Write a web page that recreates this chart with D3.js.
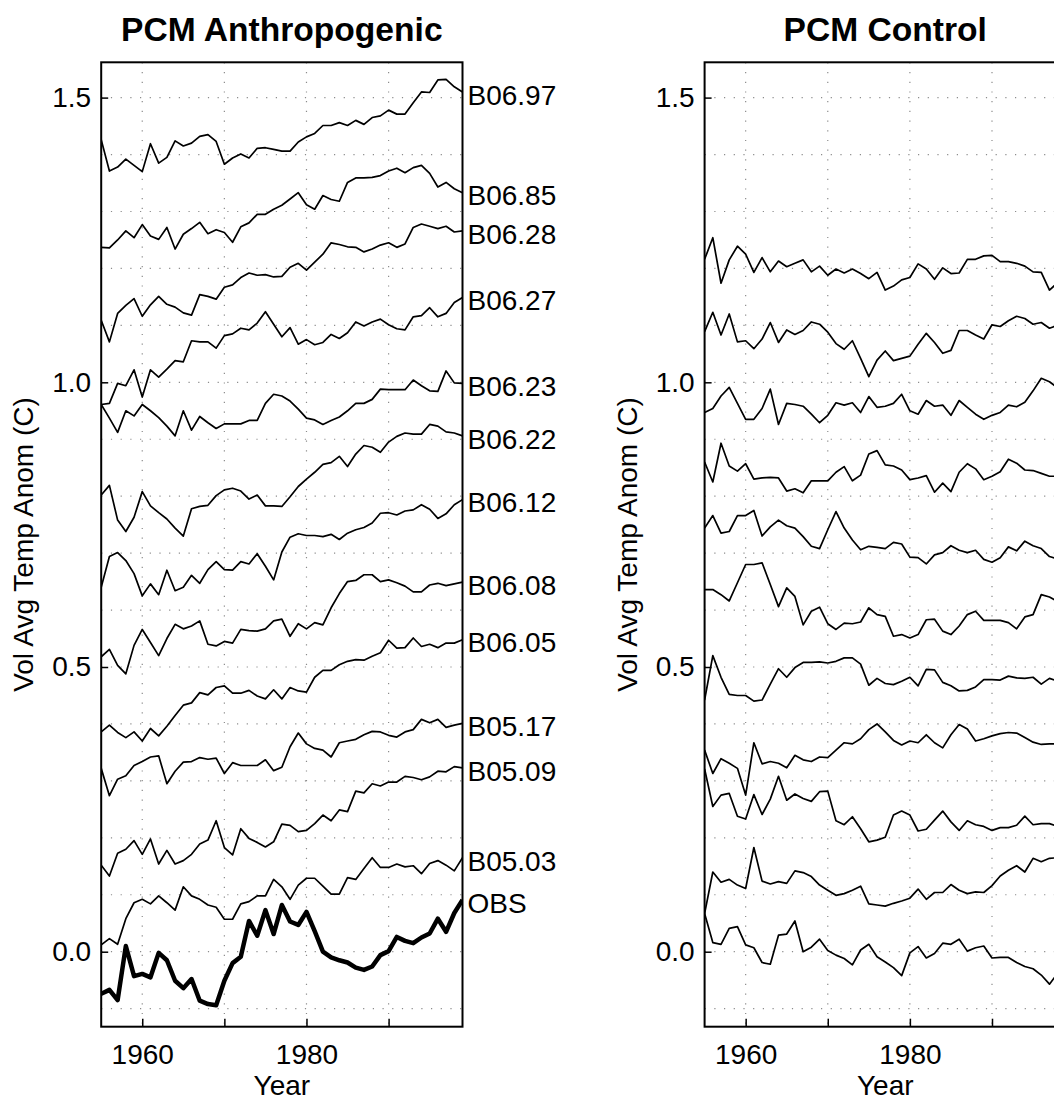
<!DOCTYPE html>
<html><head><meta charset="utf-8">
<script src="https://cdn.jsdelivr.net/npm/d3@7"></script>
<style>
body{margin:0;background:#fff;}
text{font-family:"Liberation Sans",Arial,Helvetica,sans-serif;fill:#000;}
</style></head>
<body><svg id="chart" width="1054" height="1101"></svg>
<script>
const years = [1955,1956,1957,1958,1959,1960,1961,1962,1963,1964,1965,1966,1967,1968,1969,1970,1971,1972,1973,1974,1975,1976,1977,1978,1979,1980,1981,1982,1983,1984,1985,1986,1987,1988,1989,1990,1991,1992,1993,1994,1995,1996,1997,1998,1999];

const anthNames = ["B06.97","B06.85","B06.28","B06.27","B06.23","B06.22","B06.12","B06.08","B06.05","B05.17","B05.09","B05.03"];
const B0697 = [1.426,1.371,1.378,1.392,1.381,1.370,1.419,1.385,1.395,1.424,1.415,1.420,1.432,1.435,1.423,1.383,1.394,1.401,1.394,1.411,1.412,1.409,1.406,1.406,1.422,1.431,1.437,1.451,1.451,1.456,1.451,1.460,1.453,1.465,1.468,1.478,1.471,1.471,1.491,1.510,1.509,1.531,1.532,1.519,1.510];
const B0685 = [1.237,1.236,1.250,1.266,1.254,1.277,1.257,1.251,1.272,1.234,1.260,1.270,1.281,1.261,1.268,1.263,1.246,1.273,1.280,1.295,1.295,1.304,1.311,1.322,1.333,1.312,1.304,1.328,1.321,1.318,1.351,1.359,1.359,1.360,1.363,1.371,1.376,1.368,1.377,1.381,1.367,1.343,1.351,1.340,1.333];
const B0628 = [1.109,1.071,1.121,1.135,1.147,1.116,1.136,1.151,1.137,1.132,1.122,1.118,1.154,1.151,1.146,1.167,1.171,1.184,1.192,1.188,1.189,1.185,1.186,1.202,1.209,1.197,1.211,1.225,1.245,1.242,1.238,1.237,1.229,1.234,1.241,1.245,1.237,1.243,1.272,1.278,1.274,1.270,1.274,1.264,1.266];
const B0627 = [0.961,0.963,0.998,0.994,1.022,0.974,1.022,1.009,1.023,1.038,1.036,1.073,1.071,1.071,1.060,1.082,1.085,1.095,1.092,1.104,1.124,1.102,1.080,1.096,1.067,1.075,1.066,1.070,1.084,1.077,1.087,1.106,1.099,1.106,1.111,1.101,1.094,1.092,1.115,1.117,1.131,1.115,1.121,1.140,1.149];
const B0623 = [0.961,0.937,0.912,0.950,0.941,0.961,0.950,0.938,0.923,0.906,0.950,0.916,0.940,0.929,0.919,0.927,0.927,0.927,0.933,0.933,0.963,0.979,0.976,0.967,0.953,0.937,0.934,0.926,0.933,0.939,0.950,0.963,0.963,0.970,0.988,0.987,0.987,0.987,1.004,0.994,0.985,0.984,1.020,0.999,0.998];
const B0622 = [0.802,0.819,0.758,0.738,0.763,0.808,0.783,0.771,0.760,0.744,0.730,0.778,0.782,0.784,0.801,0.811,0.814,0.809,0.795,0.802,0.783,0.783,0.782,0.799,0.817,0.830,0.842,0.856,0.859,0.870,0.852,0.874,0.889,0.886,0.877,0.895,0.905,0.911,0.909,0.909,0.926,0.923,0.913,0.911,0.906];
const B0612 = [0.640,0.694,0.701,0.687,0.664,0.625,0.646,0.627,0.670,0.634,0.640,0.661,0.647,0.671,0.685,0.671,0.670,0.685,0.681,0.699,0.677,0.653,0.702,0.728,0.734,0.731,0.731,0.729,0.733,0.724,0.735,0.741,0.745,0.753,0.770,0.771,0.767,0.774,0.776,0.785,0.777,0.761,0.769,0.785,0.794];
const B0608 = [0.518,0.531,0.503,0.488,0.538,0.566,0.543,0.520,0.550,0.575,0.567,0.572,0.581,0.540,0.537,0.545,0.542,0.566,0.564,0.563,0.567,0.581,0.584,0.554,0.576,0.567,0.578,0.574,0.604,0.629,0.650,0.652,0.662,0.662,0.650,0.653,0.648,0.642,0.632,0.632,0.644,0.647,0.643,0.646,0.649];
const B0605 = [0.386,0.398,0.385,0.376,0.386,0.370,0.392,0.379,0.396,0.415,0.433,0.437,0.455,0.451,0.464,0.467,0.454,0.454,0.459,0.449,0.444,0.460,0.444,0.464,0.458,0.456,0.482,0.494,0.494,0.504,0.510,0.513,0.512,0.519,0.525,0.547,0.533,0.534,0.551,0.536,0.540,0.534,0.542,0.542,0.548];
const B0517 = [0.322,0.274,0.303,0.309,0.327,0.334,0.342,0.344,0.295,0.317,0.333,0.334,0.341,0.338,0.340,0.313,0.332,0.327,0.327,0.327,0.337,0.318,0.324,0.360,0.384,0.365,0.357,0.354,0.342,0.367,0.370,0.373,0.381,0.387,0.386,0.380,0.377,0.386,0.390,0.408,0.402,0.408,0.394,0.398,0.401];
const B0509 = [0.152,0.133,0.173,0.180,0.195,0.171,0.198,0.154,0.178,0.154,0.160,0.171,0.189,0.196,0.230,0.183,0.170,0.216,0.199,0.192,0.184,0.193,0.224,0.222,0.211,0.213,0.225,0.240,0.230,0.249,0.246,0.282,0.279,0.295,0.291,0.298,0.298,0.308,0.306,0.302,0.307,0.317,0.316,0.325,0.323];
const B0503 = [0.012,0.023,0.013,0.058,0.086,0.092,0.084,0.098,0.086,0.073,0.114,0.098,0.092,0.082,0.078,0.057,0.057,0.084,0.088,0.098,0.098,0.127,0.114,0.092,0.117,0.129,0.129,0.115,0.101,0.101,0.130,0.127,0.146,0.165,0.148,0.148,0.154,0.149,0.151,0.137,0.155,0.160,0.152,0.142,0.165];
const OBS = [-0.074,-0.067,-0.085,0.010,-0.043,-0.039,-0.045,-0.002,-0.015,-0.051,-0.064,-0.048,-0.086,-0.092,-0.094,-0.051,-0.020,-0.009,0.054,0.028,0.073,0.031,0.082,0.053,0.047,0.070,0.036,0.000,-0.010,-0.015,-0.019,-0.028,-0.032,-0.026,-0.006,0.001,0.026,0.019,0.015,0.025,0.032,0.058,0.035,0.068,0.091];

const C1 = [1.216,1.254,1.174,1.215,1.239,1.225,1.193,1.219,1.194,1.213,1.203,1.209,1.215,1.194,1.204,1.188,1.199,1.192,1.199,1.191,1.182,1.193,1.162,1.169,1.180,1.184,1.208,1.199,1.181,1.201,1.191,1.192,1.216,1.216,1.222,1.223,1.212,1.212,1.209,1.204,1.194,1.193,1.162,1.175,1.180];
const C2 = [1.089,1.123,1.083,1.120,1.071,1.073,1.059,1.076,1.105,1.070,1.092,1.084,1.091,1.106,1.102,1.088,1.068,1.058,1.073,1.042,1.010,1.039,1.055,1.038,1.042,1.046,1.067,1.086,1.070,1.051,1.056,1.091,1.091,1.083,1.076,1.101,1.098,1.108,1.116,1.112,1.102,1.105,1.095,1.100,1.100];
const C3 = [0.947,0.954,0.976,0.991,0.963,0.935,0.935,0.954,0.988,0.926,0.963,0.961,0.958,0.944,0.929,0.942,0.964,0.960,0.964,0.947,0.975,0.956,0.958,0.963,0.979,0.950,0.944,0.968,0.958,0.960,0.942,0.968,0.956,0.944,0.935,0.942,0.947,0.960,0.957,0.965,0.985,1.007,1.001,0.990,0.985];
const C4 = [0.860,0.825,0.893,0.853,0.844,0.857,0.830,0.832,0.833,0.832,0.809,0.813,0.806,0.827,0.827,0.827,0.842,0.852,0.827,0.837,0.874,0.880,0.855,0.853,0.846,0.829,0.832,0.836,0.807,0.823,0.808,0.842,0.857,0.848,0.829,0.835,0.843,0.865,0.858,0.846,0.845,0.840,0.835,0.835,0.830];
const C5 = [0.744,0.766,0.735,0.738,0.766,0.766,0.775,0.730,0.746,0.758,0.748,0.744,0.729,0.712,0.708,0.741,0.773,0.744,0.723,0.706,0.712,0.710,0.708,0.719,0.716,0.693,0.692,0.681,0.697,0.701,0.713,0.705,0.701,0.705,0.689,0.684,0.692,0.711,0.704,0.721,0.713,0.708,0.694,0.690,0.690];
const C6 = [0.636,0.636,0.627,0.616,0.648,0.680,0.680,0.683,0.645,0.606,0.639,0.624,0.574,0.598,0.605,0.576,0.566,0.577,0.576,0.579,0.604,0.592,0.589,0.554,0.557,0.551,0.557,0.583,0.584,0.563,0.557,0.572,0.592,0.598,0.582,0.582,0.582,0.578,0.567,0.588,0.592,0.627,0.623,0.615,0.610];
const C7 = [0.442,0.520,0.482,0.452,0.450,0.450,0.440,0.442,0.470,0.497,0.482,0.499,0.508,0.508,0.509,0.507,0.510,0.516,0.516,0.505,0.468,0.480,0.471,0.469,0.475,0.482,0.467,0.496,0.495,0.473,0.467,0.458,0.459,0.465,0.478,0.478,0.477,0.484,0.481,0.480,0.482,0.470,0.480,0.475,0.478];
const C8 = [0.354,0.313,0.339,0.331,0.322,0.275,0.367,0.330,0.334,0.331,0.323,0.345,0.337,0.334,0.342,0.341,0.354,0.367,0.365,0.374,0.390,0.400,0.386,0.371,0.363,0.370,0.367,0.381,0.367,0.358,0.381,0.399,0.391,0.370,0.374,0.379,0.383,0.385,0.384,0.376,0.368,0.364,0.365,0.365,0.368];
const C9 = [0.321,0.255,0.275,0.278,0.238,0.233,0.276,0.241,0.268,0.308,0.266,0.277,0.269,0.264,0.281,0.282,0.230,0.223,0.237,0.216,0.193,0.196,0.201,0.240,0.247,0.240,0.212,0.215,0.231,0.247,0.228,0.213,0.230,0.223,0.220,0.213,0.218,0.218,0.222,0.238,0.223,0.225,0.225,0.220,0.220];
const C10 = [0.067,0.140,0.122,0.127,0.117,0.111,0.183,0.124,0.119,0.123,0.120,0.142,0.139,0.132,0.117,0.108,0.099,0.102,0.108,0.115,0.084,0.082,0.080,0.085,0.089,0.094,0.110,0.092,0.104,0.104,0.118,0.108,0.102,0.105,0.104,0.116,0.133,0.143,0.151,0.140,0.164,0.158,0.164,0.165,0.170];
const C11 = [0.067,0.016,0.013,0.041,0.044,0.012,0.007,-0.019,-0.022,0.029,0.031,0.054,0.000,0.008,0.022,0.002,-0.006,-0.012,-0.023,0.003,0.013,-0.009,-0.018,-0.028,-0.042,-0.002,0.009,-0.011,-0.003,0.015,0.013,0.022,0.001,0.007,0.010,-0.011,-0.010,-0.010,-0.019,-0.026,-0.030,-0.041,-0.057,-0.038,-0.030];

const yTicks = [0.0, 0.5, 1.0, 1.5];
const yGrid = [-0.1,0.0,0.1,0.2,0.3,0.4,0.5,0.6,0.7,0.8,0.9,1.0,1.1,1.2,1.3,1.4,1.5];
const xTicks = [1960, 1970, 1980, 1990];
const xLabels = [1960, 1980];

const anthSeries = [B0697,B0685,B0628,B0627,B0623,B0622,B0612,B0608,B0605,B0517,B0509,B0503];
const ctrlSeries = [C1,C2,C3,C4,C5,C6,C7,C8,C9,C10,C11];

const svg = d3.select("#chart");
const FS = 28;
const y = d3.scaleLinear().domain([-0.1317, 1.562]).range([1026.7, 62.3]);

function panel(left, title, series, names, obs, id) {
  const x = d3.scaleLinear().domain([1955, 1999]).range([left, left + 361.3]);
  const g = svg.append("g");
  const [x0, x1] = x.range(), [yb, yt] = y.range();
  g.append("clipPath").attr("id", id).append("rect")
    .attr("x", x0).attr("y", yt).attr("width", x1 - x0).attr("height", yb - yt);
  // grid
  g.selectAll(".hg").data(yGrid).join("line")
    .attr("x1", x0).attr("x2", x1).attr("y1", d => y(d)).attr("y2", d => y(d))
    .attr("stroke", "#8c8c8c").attr("stroke-width", 1.2).attr("stroke-dasharray", "1.2 8.5");
  g.selectAll(".vg").data(xTicks).join("line")
    .attr("x1", d => x(d)).attr("x2", d => x(d)).attr("y1", yt).attr("y2", yb)
    .attr("stroke", "#8c8c8c").attr("stroke-width", 1.2).attr("stroke-dasharray", "1.2 8.5");
  // lines
  const line = d3.line().x((d, i) => x(years[i])).y(d => y(d));
  const lg = g.append("g").attr("clip-path", `url(#${id})`);
  series.forEach(s => lg.append("path").attr("d", line(s)).attr("fill", "none")
    .attr("stroke", "#000").attr("stroke-width", 1.7).attr("stroke-linejoin", "round"));
  if (obs) lg.append("path").attr("d", line(obs)).attr("fill", "none")
    .attr("stroke", "#000").attr("stroke-width", 4.5).attr("stroke-linejoin", "round");
  // axes
  const ax = g.append("g").attr("transform", `translate(${x0},0)`)
    .call(d3.axisLeft(y).tickValues(yTicks).tickFormat(d3.format(".1f")).tickSize(-7).tickPadding(10));
  const bx = g.append("g").attr("transform", `translate(0,${yb})`)
    .call(d3.axisBottom(x).tickValues(xTicks).tickFormat(d => xLabels.includes(d) ? d : "").tickSize(-8).tickPadding(17));
  [ax, bx].forEach(a => {
    a.select(".domain").remove();
    a.selectAll("line").attr("stroke", "#000").attr("stroke-width", 1.5);
    a.selectAll("text").attr("font-size", FS).attr("font-family", '"Liberation Sans",Arial,sans-serif').attr("fill", "#000");
  });
  // box
  g.append("rect").attr("x", x0).attr("y", yt).attr("width", x1 - x0).attr("height", yb - yt)
    .attr("fill", "none").attr("stroke", "#000").attr("stroke-width", 2);
  // labels at line ends
  if (names) {
    const all = series.map((s, i) => ({ n: names[i], v: s[s.length - 1] }));
    if (obs) all.push({ n: "OBS", v: obs[obs.length - 1] });
    g.selectAll(".lab").data(all).join("text")
      .attr("x", x1 + 5).attr("y", d => y(d.v) + 3).attr("dy", "0.35em")
      .attr("font-size", FS).text(d => d.n);
  }
  // titles
  g.append("text").attr("x", (x0 + x1) / 2).attr("y", 41).attr("text-anchor", "middle")
    .attr("font-size", 33.6).attr("font-weight", "bold").text(title);
  g.append("text").attr("x", (x0 + x1) / 2).attr("y", 1095).attr("text-anchor", "middle")
    .attr("font-size", FS).text("Year");
  g.append("text").attr("transform", `translate(${x0 - 68},${(yt + yb) / 2}) rotate(-90)`)
    .attr("text-anchor", "middle").attr("font-size", FS).text("Vol Avg Temp Anom (C)");
}

panel(101.2, "PCM Anthropogenic", anthSeries, anthNames, OBS, "clipA");
panel(704.6, "PCM Control", ctrlSeries, null, null, "clipC");
</script></body></html>
